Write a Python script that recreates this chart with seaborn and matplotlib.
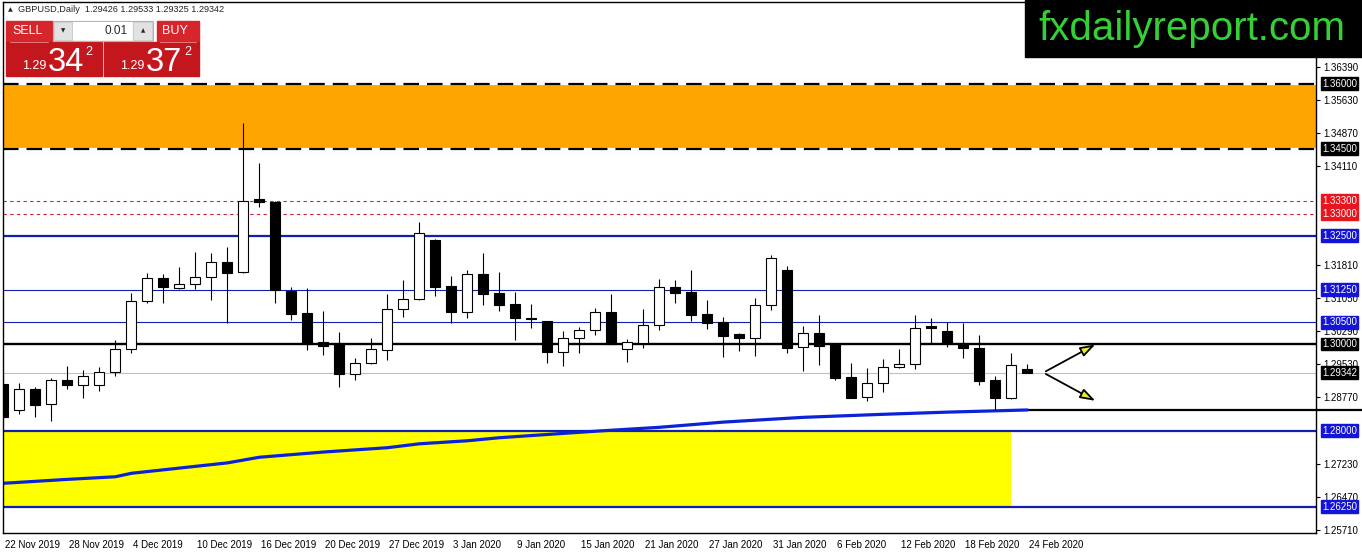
import matplotlib
matplotlib.use("Agg")
import numpy as np
import seaborn as sns
import matplotlib.pyplot as plt
import matplotlib.transforms as mtransforms
from matplotlib.patches import Rectangle

# ==================== data ====================
symbol = "GBPUSD,Daily"

# daily candles, 22 Nov 2019 .. 24 Feb 2020 (bar index 0..64)
opens = [1.2908, 1.2848, 1.2896, 1.2862, 1.2916, 1.2905, 1.2905, 1.2935, 1.2988, 1.3098,
         1.3151, 1.3128, 1.3138, 1.3154, 1.3188, 1.3165, 1.3334, 1.3327, 1.3122, 1.3071,
         1.3004, 1.3000, 1.2930, 1.2957, 1.2987, 1.3080, 1.3104, 1.3240, 1.3133, 1.3074,
         1.3161, 1.3118, 1.3092, 1.3060, 1.3052, 1.2982, 1.3013, 1.3032, 1.3073, 1.2989,
         1.3003, 1.3043, 1.3132, 1.3120, 1.3069, 1.3051, 1.3022, 1.3015, 1.3089, 1.3171,
         1.2992, 1.3025, 1.2999, 1.2924, 1.2879, 1.2909, 1.2946, 1.2953, 1.3041, 1.3030,
         1.3000, 1.2990, 1.2917, 1.2876, 1.29426]
highs = [1.2926, 1.2909, 1.2902, 1.2922, 1.2949, 1.2940, 1.2948, 1.3009, 1.3117, 1.3163,
         1.3161, 1.3178, 1.3212, 1.3209, 1.3224, 1.3510, 1.3418, 1.3330, 1.3131, 1.3128,
         1.3076, 1.3028, 1.2968, 1.3014, 1.3115, 1.3148, 1.3281, 1.3241, 1.3157, 1.3171,
         1.3210, 1.3167, 1.3120, 1.3092, 1.3053, 1.3030, 1.3040, 1.3082, 1.3115, 1.3011,
         1.3081, 1.3149, 1.3148, 1.3171, 1.3101, 1.3063, 1.3025, 1.3105, 1.3205, 1.3180,
         1.3041, 1.3066, 1.3000, 1.2956, 1.2945, 1.2966, 1.2988, 1.3066, 1.3060, 1.3051,
         1.3048, 1.3020, 1.2926, 1.2979, 1.29533]
lows = [1.2823, 1.2838, 1.2832, 1.2823, 1.2896, 1.2876, 1.2892, 1.2927, 1.2979, 1.3095,
        1.3095, 1.3127, 1.3127, 1.3101, 1.3049, 1.3164, 1.3316, 1.3095, 1.3055, 1.2987,
        1.2975, 1.2902, 1.2917, 1.2955, 1.2963, 1.3063, 1.3101, 1.3111, 1.3048, 1.3061,
        1.3090, 1.3077, 1.3009, 1.3038, 1.2957, 1.2950, 1.2980, 1.3021, 1.2999, 1.2959,
        1.2991, 1.3032, 1.3094, 1.3054, 1.3035, 1.2971, 1.2985, 1.2973, 1.3078, 1.2980,
        1.2938, 1.2952, 1.2917, 1.2875, 1.2869, 1.2890, 1.2944, 1.2942, 1.3002, 1.2994,
        1.2967, 1.2905, 1.2848, 1.2873, 1.29325]
closes = [1.2832, 1.2896, 1.2859, 1.2916, 1.2905, 1.2926, 1.2935, 1.2988, 1.3098, 1.3151,
          1.3131, 1.3138, 1.3154, 1.3188, 1.3164, 1.3330, 1.3327, 1.3124, 1.3070, 1.3001,
          1.2995, 1.2930, 1.2956, 1.2988, 1.3080, 1.3104, 1.3257, 1.3132, 1.3074, 1.3161,
          1.3116, 1.3091, 1.3061, 1.3057, 1.2982, 1.3014, 1.3032, 1.3073, 1.3000, 1.3005,
          1.3043, 1.3132, 1.3118, 1.3068, 1.3049, 1.3019, 1.3015, 1.3089, 1.3198, 1.2991,
          1.3025, 1.2996, 1.2922, 1.2876, 1.2909, 1.2946, 1.2953, 1.3038, 1.3038, 1.3002,
          1.2990, 1.2915, 1.2876, 1.2951, 1.29342]

date_ticks = [0, 4, 8, 12, 16, 20, 24, 28, 32, 36, 40, 44, 48, 52, 56, 60, 64]
date_labels = ["22 Nov 2019", "28 Nov 2019", "4 Dec 2019", "10 Dec 2019", "16 Dec 2019",
               "20 Dec 2019", "27 Dec 2019", "3 Jan 2020", "9 Jan 2020", "15 Jan 2020",
               "21 Jan 2020", "27 Jan 2020", "31 Jan 2020", "6 Feb 2020", "12 Feb 2020",
               "18 Feb 2020", "24 Feb 2020"]

# moving average (thick blue curve)
ma_bars = [0, 4, 7, 8, 14, 16, 20, 24, 26, 29, 31, 37, 41, 45, 50, 55, 59, 64]
ma_values = [1.2679, 1.2688, 1.2694, 1.2702, 1.2726, 1.2739, 1.2751, 1.2761, 1.2770,
             1.2777, 1.2784, 1.2799, 1.2808, 1.2820, 1.2831, 1.2838, 1.2843, 1.2848]

price_ticks = [1.36390, 1.35630, 1.34870, 1.34110, 1.31810, 1.31050, 1.30290,
               1.29530, 1.28770, 1.27230, 1.26470, 1.25710]

orange_zone = [1.34500, 1.36000]
yellow_zone = [1.26250, 1.28000]
yellow_end_bar = 63
red_levels = [1.33300, 1.33000]
blue_thick_levels = [1.32500, 1.28000, 1.26250]
blue_thin_levels = [1.31250, 1.30500]
black_level = 1.30000
bid = closes[-1]
trend_level = 1.2848
trend_start_bar = 64

arrow_start = [65.0, 1.2934]
arrow_ends = [[68.4, 1.3002], [68.4, 1.2866]]

level_labels = [(1.36000, "#000000"), (1.34500, "#000000"), (1.33300, "#e8141e"),
                (1.33000, "#e8141e"), (1.32500, "#1414d8"), (1.31250, "#1414d8"),
                (1.30500, "#1414d8"), (1.30000, "#000000"), (bid, "#000000"),
                (1.28000, "#1414d8"), (1.26250, "#1414d8")]

# ==================== figure ====================
sns.set_style("white")
plt.rcParams["font.family"] = ["Liberation Sans", "DejaVu Sans"]

W, H = 1362, 554
fig = plt.figure(figsize=(W / 100, H / 100), dpi=100)
ax = fig.add_axes([3 / W, 21 / H, 1313 / W, 531 / H])

x0, x1 = -0.02, 82.04
ax.set_xlim(x0, x1)
ax.set_ylim(1.25644, 1.37883)

navy = "#101fb0"

# zones
ax.axhspan(orange_zone[0], orange_zone[1], color="#ffa500", lw=0, zorder=0)
ax.add_patch(Rectangle((x0, yellow_zone[0]), yellow_end_bar - x0,
                       yellow_zone[1] - yellow_zone[0], color="#ffff00", lw=0, zorder=0))
for lv in orange_zone:
    ax.axhline(lv, color="white", lw=1.6, zorder=1)
    ax.axhline(lv, color="black", lw=1.6, ls=(0, (7, 3.6)), zorder=1)

for lv in red_levels:
    ax.axhline(lv, color="#cc2233", lw=0.8, ls=(0, (3, 3)), zorder=1)
for lv in blue_thick_levels:
    ax.axhline(lv, color=navy, lw=1.6, zorder=1)
for lv in blue_thin_levels:
    ax.axhline(lv, color=navy, lw=0.8, zorder=1)
ax.axhline(black_level, color="black", lw=1.7, zorder=1)
ax.axhline(bid, color="#c0c0c0", lw=0.8, zorder=1)

# trend line continuing past the price scale
ax.hlines(trend_level, trend_start_bar, 84.9, color="black", lw=1.6, zorder=2, clip_on=False)

# moving average
sns.lineplot(x=ma_bars, y=ma_values, ax=ax, color="#0a22d8", lw=2.3, zorder=2)

# candles
idx = np.arange(len(opens))
o = np.array(opens)
c = np.array(closes)
ax.vlines(idx, lows, highs, color="black", lw=0.8, zorder=3)
body_low = np.minimum(o, c)
body_h = np.maximum(np.abs(c - o), 0.00006)
face = ["white" if cc > oo else "black" for oo, cc in zip(o, c)]
ax.bar(idx, body_h, bottom=body_low, width=0.62, color=face,
       edgecolor="black", linewidth=0.8, zorder=4)

# arrows
for ex, ey in arrow_ends:
    ax.annotate("", xy=(ex, ey), xytext=(arrow_start[0], arrow_start[1]),
                arrowprops=dict(arrowstyle="-|>,head_length=0.9,head_width=0.3",
                                facecolor="#e8f020", edgecolor="black", lw=1.3),
                zorder=5)

# axes and ticks
for s in ax.spines.values():
    s.set_color("black")
    s.set_linewidth(1.0)
ax.yaxis.tick_right()
ax.set_yticks(price_ticks)
ax.set_yticklabels([f"{v:.5f}" for v in price_ticks])
ax.tick_params(axis="y", direction="out", length=3, width=0.8, pad=2, labelsize=7,
               colors="black")
ax.set_xticks(date_ticks)
ax.set_xticklabels(date_labels, ha="left")
ax.tick_params(axis="x", direction="out", length=3, width=0.8, pad=2, labelsize=7,
               colors="black")
shift = mtransforms.ScaledTranslation(2 / 100, 0, fig.dpi_scale_trans)
for lab in ax.get_xticklabels():
    lab.set_transform(lab.get_transform() + shift)
ax.grid(False)

for lv, col in level_labels:
    ax.text(1 + 6 / 1313, lv, f"{lv:.5f}", transform=ax.get_yaxis_transform(),
            ha="left", va="center", fontsize=7, color="white", zorder=6, clip_on=False,
            bbox=dict(boxstyle="square,pad=0.15", facecolor=col, edgecolor=col))

# ==================== overlay: header, trade panel, logo ====================
ov = fig.add_axes([0, 0, 1, 1])
ov.set_xlim(0, W)
ov.set_ylim(H, 0)
ov.axis("off")
ov.patch.set_alpha(0)

ov.text(8, 10, "▲", fontsize=4.5, va="center", ha="left", family=["DejaVu Sans"])
ov.text(18, 10, f"{symbol}  {opens[-1]:.5f} {highs[-1]:.5f} {lows[-1]:.5f} {closes[-1]:.5f}",
        fontsize=6.6, va="center", ha="left")

red_top = "#d6262c"
red_box = "#c3171d"
ov.add_patch(Rectangle((6, 21), 46, 21, color=red_top))
ov.add_patch(Rectangle((6, 42), 96, 34, color=red_box))
ov.add_patch(Rectangle((157, 21), 42, 21, color=red_top))
ov.add_patch(Rectangle((104, 42), 95, 34, color=red_box))
ov.plot([10, 48], [41.5, 41.5], color="#ee8888", lw=0.6)
ov.plot([160, 196], [41.5, 41.5], color="#ee8888", lw=0.6)
ov.add_patch(Rectangle((53, 21), 100, 20, facecolor="#f2f2f2", edgecolor="#b4b4b4", lw=0.8))
ov.add_patch(Rectangle((54, 22), 18, 18, facecolor="#e2e2e2", edgecolor="#c8c8c8", lw=0.6))
ov.add_patch(Rectangle((133, 22), 19, 18, facecolor="#e2e2e2", edgecolor="#c8c8c8", lw=0.6))
ov.add_patch(Rectangle((73, 22), 59, 18, facecolor="white", edgecolor="none"))
ov.text(63, 31, "▼", fontsize=4, ha="center", va="center", family=["DejaVu Sans"])
ov.text(143, 31, "▲", fontsize=4, ha="center", va="center", family=["DejaVu Sans"])
ov.text(128, 31, "0.01", fontsize=8.5, ha="right", va="center")
ov.text(28, 31, "SELL", fontsize=9, ha="center", va="center", color="white")
ov.text(175, 31, "BUY", fontsize=9, ha="center", va="center", color="white")

ov.text(22, 69, "1.29", fontsize=9, ha="left", va="baseline", color="white")
ov.text(48, 71, "34", fontsize=23.5, ha="left", va="baseline", color="white")
ov.text(85, 55, "2", fontsize=9, ha="left", va="baseline", color="white")
ov.text(120, 69, "1.29", fontsize=9, ha="left", va="baseline", color="white")
ov.text(146, 71, "37", fontsize=23.5, ha="left", va="baseline", color="white")
ov.text(184, 55, "2", fontsize=9, ha="left", va="baseline", color="white")

ov.add_patch(Rectangle((1025, 0), W - 1025, 57, color="black"))
ov.text(1192, 29, "fxdailyreport.com", fontsize=29, ha="center", va="center",
        color="#35d035")

fig.savefig("out.png", dpi=100)
